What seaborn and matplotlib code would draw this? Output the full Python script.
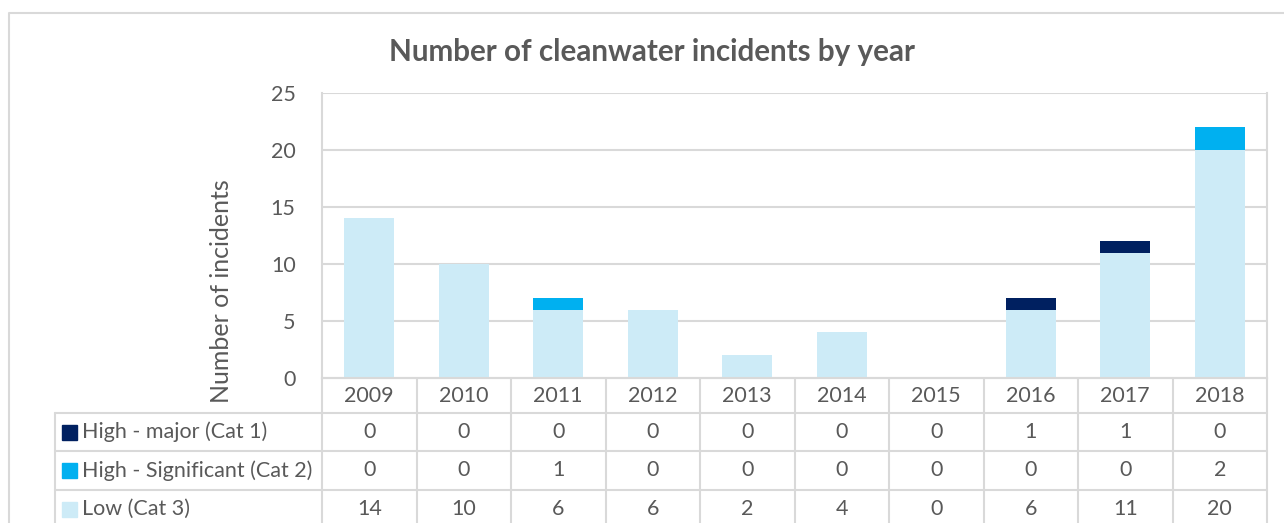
import numpy as np
import pandas as pd
import seaborn as sns
import matplotlib.pyplot as plt
from matplotlib.patches import Rectangle

# data
years = ['2009', '2010', '2011', '2012', '2013', '2014', '2015', '2016', '2017', '2018']
cat1 = [0, 0, 0, 0, 0, 0, 0, 1, 1, 0]
cat2 = [0, 0, 1, 0, 0, 0, 0, 0, 0, 2]
cat3 = [14, 10, 6, 6, 2, 4, 0, 6, 11, 20]
series_names = ['High - major (Cat 1)', 'High - Significant (Cat 2)', 'Low (Cat 3)']
series_colors = ['#002060', '#00B0F0', '#CDEBF7']

df = pd.DataFrame({'year': years, 'cat1': cat1, 'cat2': cat2, 'cat3': cat3})
df['top'] = df['cat1'] + df['cat2'] + df['cat3']
df['mid'] = df['cat2'] + df['cat3']

sns.set_style('white')
plt.rcParams['font.family'] = ['Lato', 'DejaVu Sans']
txt = '#595959'
grid = '#D9D9D9'
fs = 15.5

W, H = 1284, 523
fig = plt.figure(figsize=(W / 100, H / 100), dpi=100)

# pixel geometry
L, R, T, B = 322, 1267, 93, 378
ax = fig.add_axes([L / W, 1 - B / H, (R - L) / W, (B - T) / H])

# stacked bars: draw cumulative totals, largest first
for col, c in zip(['top', 'mid', 'cat3'], series_colors):
    sns.barplot(data=df, x='year', y=col, color=c, saturation=1, width=0.53,
                linewidth=0, edgecolor='none', ax=ax)

ax.set_xlim(-0.5, len(years) - 0.5)
ax.set_ylim(0, 25)
ax.set_yticks([0, 5, 10, 15, 20, 25])
ax.yaxis.grid(True, color=grid, linewidth=1.5)
ax.set_axisbelow(True)
ax.set_xticks([])
ax.set_xlabel('')
ax.set_ylabel('Number of incidents', fontsize=18, color=txt)
ax.yaxis.set_label_coords((233 - L) / (R - L), (B - 291) / (B - T))
ax.tick_params(axis='y', length=0, labelsize=fs, labelcolor=txt, pad=19)
for s in ['left', 'right', 'bottom']:
    ax.spines[s].set_color(grid)
    ax.spines[s].set_linewidth(1.5)
ax.spines['top'].set_visible(False)

fig.text(652 / W, 1 - 52 / H, 'Number of cleanwater incidents by year',
         ha='center', va='center', fontsize=21.3, fontweight='bold', color=txt)

# overlay for frame and data table (pixel coords)
ov = fig.add_axes([0, 0, 1, 1], zorder=-1)
ov.set_xlim(0, W)
ov.set_ylim(H, 0)
ov.axis('off')

ov.plot([9, 9, W + 5], [H + 5, 13, 13], color='#D9D9D9', lw=1.5)

col_w = (R - L) / len(years)
row_y = [B, 413, 451, 490, H + 5]
tbl_left = 55

# horizontal lines
ov.plot([L, R], [B, B], color=grid, lw=1.5)
for y in row_y[1:4]:
    ov.plot([tbl_left, R], [y, y], color=grid, lw=1.5)
# vertical lines
for i in range(len(years) + 1):
    x = L + i * col_w
    ov.plot([x, x], [B, H + 5], color=grid, lw=1.5)
ov.plot([tbl_left, tbl_left], [row_y[1], H + 5], color=grid, lw=1.5)

# header row
for i, yr in enumerate(years):
    ov.text(L + (i + 0.5) * col_w, (row_y[0] + row_y[1]) / 2, yr, ha='center', va='center',
            fontsize=fs, color=txt)

# value rows
for r, (name, vals, c) in enumerate(zip(series_names, [cat1, cat2, cat3], series_colors)):
    yc = (row_y[r + 1] + row_y[r + 2]) / 2 if r < 2 else 509
    ov.add_patch(Rectangle((62, yc - 7.5), 15, 15, color=c))
    ov.text(82, yc, name, ha='left', va='center', fontsize=fs, color=txt)
    for i, v in enumerate(vals):
        ov.text(L + (i + 0.5) * col_w, yc, str(v), ha='center', va='center', fontsize=fs, color=txt)

fig.savefig('out.png', dpi=100)
